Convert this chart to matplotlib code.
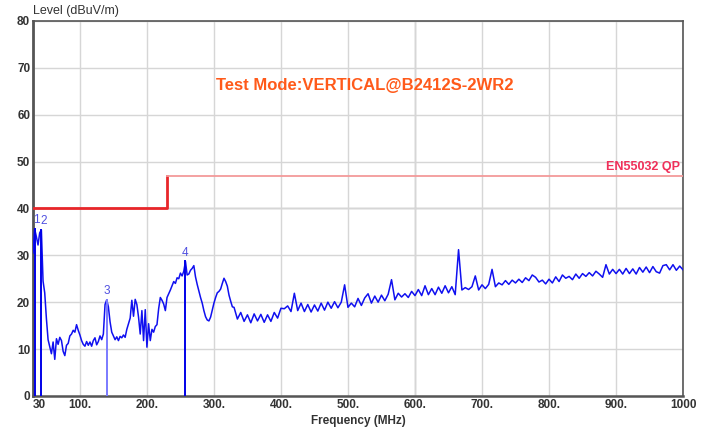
import numpy as np
import matplotlib
matplotlib.use('Agg')
import matplotlib.pyplot as plt

plt.rcParams['font.family'] = ['Liberation Sans', 'DejaVu Sans']

# sweep 30-330 MHz, 2.5 MHz steps
lvl_low = [
    30.5, 35.6, 34.0, 32.2, 34.8, 35.4, 24.5, 22.0, 16.5, 12.0,
    10.5, 9.0, 11.5, 7.8, 12.2, 11.0, 12.5, 11.8, 9.5, 8.6,
    10.8, 11.2, 12.8, 13.2, 14.0, 13.6, 15.2, 14.0, 13.0, 11.8,
    11.0, 10.6, 11.6, 10.8, 11.5, 10.6, 11.8, 12.4, 10.9, 11.6,
    12.8, 12.0, 13.2, 19.5, 20.5, 19.0, 15.8, 13.6, 12.8, 12.0,
    12.6, 11.8, 12.7, 12.4, 13.0, 12.5, 14.2, 15.4, 16.6, 20.4,
    17.0, 20.6, 19.5, 16.8, 13.2, 18.2, 11.8, 18.4, 10.4, 15.4,
    11.8, 14.2, 13.6, 14.8, 15.2, 18.6, 21.0, 20.4, 19.6, 18.2,
    21.0, 21.8, 22.6, 23.5, 24.4, 24.0, 25.2, 25.0, 26.2, 25.6,
    26.6, 28.7, 25.8, 26.0, 26.8, 27.2, 27.8, 25.4, 23.8, 22.4,
    21.0, 19.8, 18.2, 16.9, 16.2, 16.0, 16.8, 18.3, 19.8, 21.0,
    22.0, 22.3, 22.8, 24.0, 25.1, 24.4, 23.4, 21.5, 20.2, 19.0,
]
# sweep 330-1000 MHz, 5 MHz steps
lvl_high = [
    18.9, 16.4, 17.8, 15.9, 17.3, 15.6, 17.5, 16.0, 17.4, 15.7,
    17.3, 15.9, 17.8, 16.6, 18.7, 18.6, 19.2, 18.0, 21.9, 18.2,
    19.8, 18.0, 19.5, 17.9, 19.4, 18.1, 19.8, 18.3, 20.0, 18.7,
    20.1, 18.8, 20.0, 23.7, 18.9, 19.8, 19.0, 20.8, 19.3, 20.9,
    21.8, 19.8, 21.3, 20.0, 21.5, 20.3, 21.7, 24.8, 20.5, 21.9,
    21.1, 21.8, 21.0, 22.3, 21.4, 22.7, 21.4, 23.5, 21.6, 22.9,
    21.6, 23.2, 21.9, 23.5, 22.0, 23.3, 21.6, 31.2, 22.6, 23.1,
    22.7, 23.3, 25.6, 22.6, 23.7, 22.9, 23.8, 27.0, 23.3, 24.1,
    23.7, 24.6, 23.8, 24.7, 24.1, 24.9, 24.2, 25.2, 24.6, 25.8,
    25.3, 24.3, 24.7, 23.9, 24.9, 24.1, 25.4, 24.4, 25.8, 25.1,
    25.5, 24.8, 26.0, 25.1, 26.1, 25.5, 26.3, 25.6, 26.6, 26.0,
    25.3, 28.0, 26.0, 27.0, 26.1, 27.0, 26.0, 27.2, 26.1, 27.1,
    26.0, 27.4, 26.4, 27.5, 26.3, 27.6, 26.5, 26.2, 27.8, 28.0,
    26.9, 28.0, 26.8, 27.7, 26.9,
]

freq = np.concatenate([np.arange(30, 330, 2.5), np.arange(330, 1001, 5)])
level = np.array(lvl_low + lvl_high)

# marker peaks
mk_freq = [32.5, 42.5, 140.0, 257.5]
mk_level = [35.6, 35.4, 20.5, 28.7]
mk_text = ['1', '2', '3', '4']

# EN55032 class B QP limit
lim_freq = [30, 230, 230, 1000]
lim_level = [40, 40, 47, 47]

xticks = [30, 100, 200, 300, 400, 500, 600, 700, 800, 900, 1000]
xlabels = ['30', '100.', '200.', '300.', '400.', '500.', '600.', '700.', '800.', '900.', '1000']
yticks = [0, 10, 20, 30, 40, 50, 60, 70, 80]

fig = plt.figure(figsize=(7.02, 4.28), dpi=100)
ax = fig.add_axes([0.047, 0.075, 0.926, 0.876])

ax.set_xlim(30, 1000)
ax.set_ylim(0, 80)
ax.set_xticks(xticks)
ax.set_xticklabels(xlabels)
ax.set_yticks(yticks)
ax.tick_params(length=0, labelsize=8.5, labelcolor='#333333', pad=2)
for lab in ax.get_xticklabels() + ax.get_yticklabels():
    lab.set_fontweight('bold')
# keep "30" clear of the "0" on the level axis
ax.get_xticklabels()[0].set_horizontalalignment('left')

ax.grid(True, color='#d6d6d6', lw=1.0)
ax.axvline(600, color='#b8b8b8', lw=1.0, zorder=0.5)
ax.axhline(40, color='#b0b0b0', lw=1.0, zorder=0.5)
ax.set_axisbelow(True)
for s in ax.spines.values():
    s.set_color('#555555')
    s.set_linewidth(1.2)
ax.spines['left'].set_linewidth(2)
ax.spines['bottom'].set_linewidth(1.8)

# limit line
ax.plot(lim_freq[:3], lim_level[:3], color='#e8262a', lw=2, zorder=3)
ax.plot(lim_freq[2:], lim_level[2:], color='#f39a9a', lw=1.3, zorder=3)
ax.text(996, 47.6, 'EN55032 QP', color='#f0305a', fontsize=9, fontweight='bold',
        ha='right', va='bottom')

# measured trace
ax.plot(freq, level, color='#1010f0', lw=1.1, zorder=4)

# marker lines and numbers
lab_x = {'1': 35.5, '2': 45.5}
for f, l, t in zip(mk_freq, mk_level, mk_text):
    c = '#7a7aff' if t == '3' else '#0000e8'
    ax.plot([f, f], [0, l], color=c, lw=1.4, zorder=4)
    ax.text(lab_x.get(t, f), l + 0.6, t, color='#5050e0', fontsize=8.5,
            ha='center', va='bottom', zorder=5)

ax.text(303, 66.2, 'Test Mode:VERTICAL@B2412S-2WR2', color='#ff5a1a', fontsize=12,
        fontweight='bold', ha='left', va='center')

fig.text(0.047, 0.988, 'Level (dBuV/m)', fontsize=9, color='#333333', ha='left', va='top')
ax.set_xlabel('Frequency (MHz)', fontsize=8.5, fontweight='bold', color='#333333', labelpad=3)

fig.savefig('out.png', dpi=100)
